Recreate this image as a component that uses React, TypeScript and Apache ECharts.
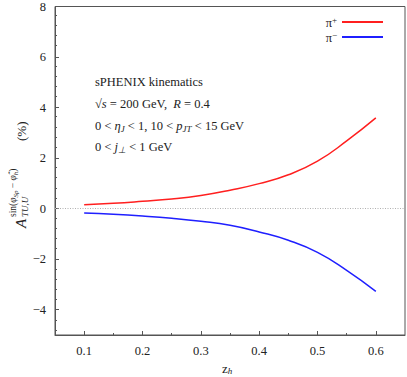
import React, { useEffect, useRef } from 'react';
import * as echarts from 'echarts';

const zh = [0.1, 0.15, 0.2, 0.25, 0.3, 0.35, 0.4, 0.45, 0.5, 0.55, 0.6];
const piPlus = [0.15, 0.21, 0.29, 0.38, 0.52, 0.73, 0.99, 1.34, 1.88, 2.68, 3.59];
const piMinus = [-0.17, -0.22, -0.29, -0.38, -0.5, -0.66, -0.92, -1.25, -1.73, -2.44, -3.27];
const xMajorTicks = [0.1, 0.2, 0.3, 0.4, 0.5, 0.6];
const xMinorTicks = [0.15, 0.25, 0.35, 0.45, 0.55];
const yMajorTicks = [-4, -2, 0, 2, 4, 6, 8];
const yMinorTicks = [-4.8, -4.4, -3.6, -3.2, -2.8, -2.4, -1.6, -1.2, -0.8, -0.4, 0.4, 0.8, 1.2, 1.6, 2.4, 2.8, 3.2, 3.6, 4.4, 4.8, 5.2, 5.6, 6.4, 6.8, 7.2, 7.6];
const seriesNames = ['π+', 'π−'];

const SERIF = 'Liberation Serif';
const TXT = '#222';
const AXIS = '#555';

export default function App() {
  const ref = useRef<HTMLDivElement>(null);
  useEffect(() => {
    if (!ref.current) return;
    document.body.style.margin = '0';
    const chart = echarts.init(ref.current, null, { renderer: 'svg' });
    const grid = { left: 55, right: 2, top: 5, bottom: 42 };
    const fmt = (v: number) => {
      const s = Math.abs(v) < 1e-9 ? '0' : String(Math.round(v * 100) / 100);
      return s.replace('-', '−');
    };
    const annRich = {
      r: { fontFamily: SERIF, fontSize: 12.5, fill: TXT, verticalAlign: 'middle', lineHeight: 16 },
      i: { fontFamily: SERIF, fontSize: 12.5, fontStyle: 'italic', fill: TXT, verticalAlign: 'middle', lineHeight: 16 },
      s: { fontFamily: SERIF, fontSize: 9, fontStyle: 'italic', fill: TXT, verticalAlign: 'bottom', lineHeight: 10 },
    };
    const annLines = [
      '{r|sPHENIX kinematics}',
      '{r|√}{i|s}{r| = 200 GeV,  }{i|R}{r| = 0.4}',
      '{r|0 < }{i|η}{s|J}{r| < 1, 10 < }{i|p}{s|JT}{r| < 15 GeV}',
      '{r|0 < }{i|j}{s|⊥}{r| < 1 GeV}',
    ];
    const annY = [83, 105, 127, 148];
    chart.setOption({
      animation: false,
      backgroundColor: '#fff',
      textStyle: { fontFamily: SERIF },
      grid: [
        { ...grid, show: true, borderColor: AXIS, borderWidth: 1, backgroundColor: 'transparent' },
        { ...grid, show: false },
      ],
      xAxis: [
        {
          type: 'value', gridIndex: 0, min: 0.05, max: 0.65,
          axisLine: { show: true, onZero: false, lineStyle: { color: AXIS, width: 1 } },
          axisTick: { show: true, inside: true, length: 4, customValues: xMajorTicks, lineStyle: { color: AXIS } },
          axisLabel: { customValues: xMajorTicks, formatter: fmt, fontFamily: SERIF, fontSize: 12.5, color: TXT, margin: 9 },
          splitLine: { show: false },
        },
        {
          type: 'value', gridIndex: 1, min: 0.05, max: 0.65,
          axisLine: { show: false, onZero: false },
          axisTick: { show: true, inside: true, length: 2, customValues: xMinorTicks, lineStyle: { color: AXIS } },
          axisLabel: { show: false },
          splitLine: { show: false },
        },
      ],
      yAxis: [
        {
          type: 'value', gridIndex: 0, min: -5, max: 8,
          axisLine: { show: true, onZero: false, lineStyle: { color: AXIS, width: 1 } },
          axisTick: { show: true, inside: true, length: 4, customValues: yMajorTicks, lineStyle: { color: AXIS } },
          axisLabel: { customValues: yMajorTicks, formatter: fmt, fontFamily: SERIF, fontSize: 12.5, color: TXT, margin: 9 },
          splitLine: { show: false },
        },
        {
          type: 'value', gridIndex: 1, min: -5, max: 8,
          axisLine: { show: false, onZero: false },
          axisTick: { show: true, inside: true, length: 2, customValues: yMinorTicks, lineStyle: { color: AXIS } },
          axisLabel: { show: false },
          splitLine: { show: false },
        },
      ],
      legend: {
        orient: 'vertical', right: 19, top: 10, align: 'right',
        icon: 'rect', itemWidth: 41, itemHeight: 2, itemGap: 1,
        data: seriesNames,
        formatter: (name: string) => `{a|π}{b|${name.slice(1)}}`,
        textStyle: {
          fontFamily: SERIF,
          rich: {
            a: { fontFamily: SERIF, fontSize: 12.5, color: TXT, lineHeight: 14, verticalAlign: 'bottom' },
            b: { fontFamily: SERIF, fontSize: 9, color: TXT, lineHeight: 14, verticalAlign: 'top' },
          },
        },
      },
      series: [
        {
          name: seriesNames[0], type: 'line', xAxisIndex: 0, yAxisIndex: 0,
          data: zh.map((x, i) => [x, piPlus[i]]), smooth: true, showSymbol: false,
          lineStyle: { color: '#ff1f1f', width: 1.5 }, itemStyle: { color: '#ff1f1f' },
          markLine: {
            silent: true, symbol: 'none', label: { show: false },
            lineStyle: { color: '#b0b0b0', type: [1, 1.5], width: 1 },
            emphasis: { disabled: true },
            data: [{ yAxis: 0 }],
          },
        },
        {
          name: seriesNames[1], type: 'line', xAxisIndex: 0, yAxisIndex: 0,
          data: zh.map((x, i) => [x, piMinus[i]]), smooth: true, showSymbol: false,
          lineStyle: { color: '#1f1fff', width: 1.5 }, itemStyle: { color: '#1f1fff' },
        },
      ],
      graphic: [
        ...annLines.map((t, k) => ({
          type: 'text', left: 95, top: annY[k] - 8,
          style: { text: t, rich: annRich, fill: TXT, font: `12.5px ${SERIF}` },
        })),
        {
          type: 'text', left: 222, top: 362,
          style: {
            text: '{r|z}{s|h}',
            rich: {
              r: { fontFamily: SERIF, fontSize: 13, fill: TXT, verticalAlign: 'middle', lineHeight: 14 },
              s: { fontFamily: SERIF, fontSize: 9, fontStyle: 'italic', fill: TXT, verticalAlign: 'bottom', lineHeight: 10 },
            },
          },
        },
        {
          type: 'group', x: 21, y: 172, rotation: Math.PI / 2,
          children: [
            { type: 'text', x: -56, y: 0, style: { text: 'A', font: `italic 15px ${SERIF}`, fill: TXT, align: 'left', verticalAlign: 'middle' } },
            { type: 'text', x: -45, y: 4, style: { text: 'TU,U', font: `italic 9px ${SERIF}`, fill: TXT, align: 'left', verticalAlign: 'middle' } },
            {
              type: 'text', x: -45, y: -8,
              style: {
                text: '{r|sin(}{i|φ}{s|Sp}{r| − }{i|φ̂}{s|h}{r|)}',
                align: 'left', verticalAlign: 'middle',
                rich: {
                  r: { fontFamily: SERIF, fontSize: 9.5, fill: TXT, verticalAlign: 'middle', lineHeight: 12 },
                  i: { fontFamily: SERIF, fontSize: 9.5, fontStyle: 'italic', fill: TXT, verticalAlign: 'middle', lineHeight: 12 },
                  s: { fontFamily: SERIF, fontSize: 7, fontStyle: 'italic', fill: TXT, verticalAlign: 'bottom', lineHeight: 8 },
                },
              },
            },
            { type: 'text', x: 31, y: 0, style: { text: '(%)', font: `13px ${SERIF}`, fill: TXT, align: 'left', verticalAlign: 'middle' } },
          ],
        },
      ],
    });
    return () => chart.dispose();
  }, []);
  return <div ref={ref} style={{ width: 407, height: 377 }} />;
}
